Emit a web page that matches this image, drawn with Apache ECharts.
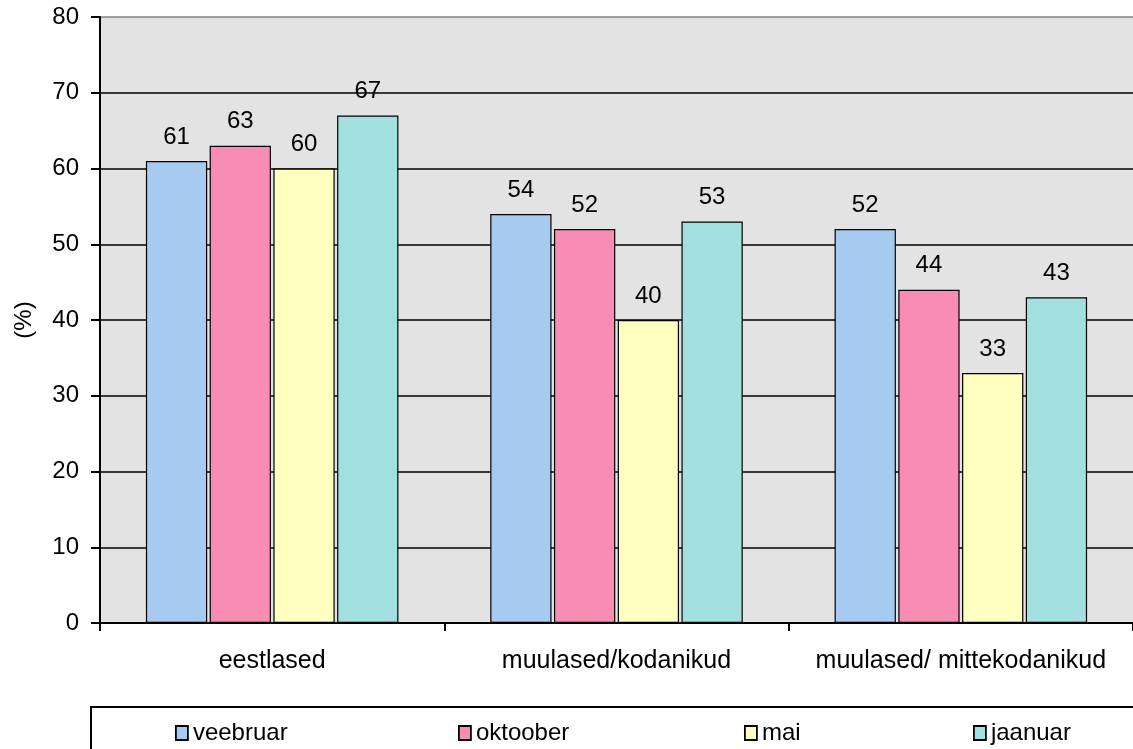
<!DOCTYPE html>
<html><head><meta charset="utf-8">
<script src="https://cdn.jsdelivr.net/npm/echarts@6/dist/echarts.min.js"></script>
<style>html,body{margin:0;padding:0;background:#fff}#c{width:1133px;height:749px}</style>
</head><body><div id="c"></div>
<script>
const categories = ['eestlased', 'muulased/kodanikud', 'muulased/ mittekodanikud'];
const seriesNames = ['veebruar', 'oktoober', 'mai', 'jaanuar'];
const veebruar = [61, 54, 52];
const oktoober = [63, 52, 44];
const mai = [60, 40, 33];
const jaanuar = [67, 53, 43];
const yTicks = [0, 10, 20, 30, 40, 50, 60, 70, 80];
const colors = ['#A6CAF0', '#F98CB4', '#FFFFC0', '#A2E0E0'];
const values = [veebruar, oktoober, mai, jaanuar];
const FONT = 'Liberation Sans, Arial, sans-serif';
const legendLeft = [170, 453, 739, 968];

const chart = echarts.init(document.getElementById('c'));
chart.setOption({
  animation: false,
  textStyle: { fontFamily: FONT },
  graphic: [{
    type: 'rect', left: 90, top: 706, z: -1,
    shape: { width: 1100, height: 60 },
    style: { fill: '#fff', stroke: '#000', lineWidth: 2 }
  }],
  legend: seriesNames.map((n, i) => ({
    data: [{ name: n, icon: 'rect' }], left: legendLeft[i], top: 716, itemWidth: 12, itemHeight: 14,
    itemGap: 4, textStyle: { fontSize: 24, color: '#000', fontFamily: FONT, padding: [0, 0, 0, 0] },
    itemStyle: { borderColor: '#000', borderWidth: 1.8 }
  })),
  grid: { left: 100, top: 17, width: 1041, height: 606, show: true, backgroundColor: '#E3E3E3', borderWidth: 0 },
  xAxis: {
    type: 'category', data: categories,
    axisLine: { lineStyle: { color: '#000', width: 2 } },
    axisTick: { show: true, interval: 0, length: 8, lineStyle: { color: '#000', width: 2 } },
    axisLabel: { fontSize: 25, color: '#000', margin: 26, fontFamily: FONT, interval: 0, hideOverlap: false }
  },
  yAxis: {
    type: 'value', min: 0, max: 80, interval: 10,
    name: '(%)', nameLocation: 'middle', nameGap: 64, nameRotate: 90,
    nameTextStyle: { fontSize: 24, color: '#000', fontFamily: FONT },
    axisLine: { show: true, lineStyle: { color: '#000', width: 2 } },
    axisTick: { show: true, length: 9, lineStyle: { color: '#000', width: 2 } },
    axisLabel: { fontSize: 24, color: '#000', margin: 21, fontFamily: FONT,
      formatter: v => yTicks.includes(v) ? String(v) : '' },
    splitLine: { show: true, lineStyle: { color: ['#000','#000','#000','#000','#000','#000','#000','#000','#808080'], width: 1.5 } }
  },
  series: seriesNames.map((n, i) => ({
    name: n, type: 'bar', data: values[i],
    barWidth: '17.8%', barGap: '4%',
    itemStyle: { color: colors[i], borderColor: '#000', borderWidth: 1.2 },
    label: { show: true, position: 'top', distance: 12, fontSize: 24, color: '#000', fontFamily: FONT }
  }))
});
</script></body></html>
